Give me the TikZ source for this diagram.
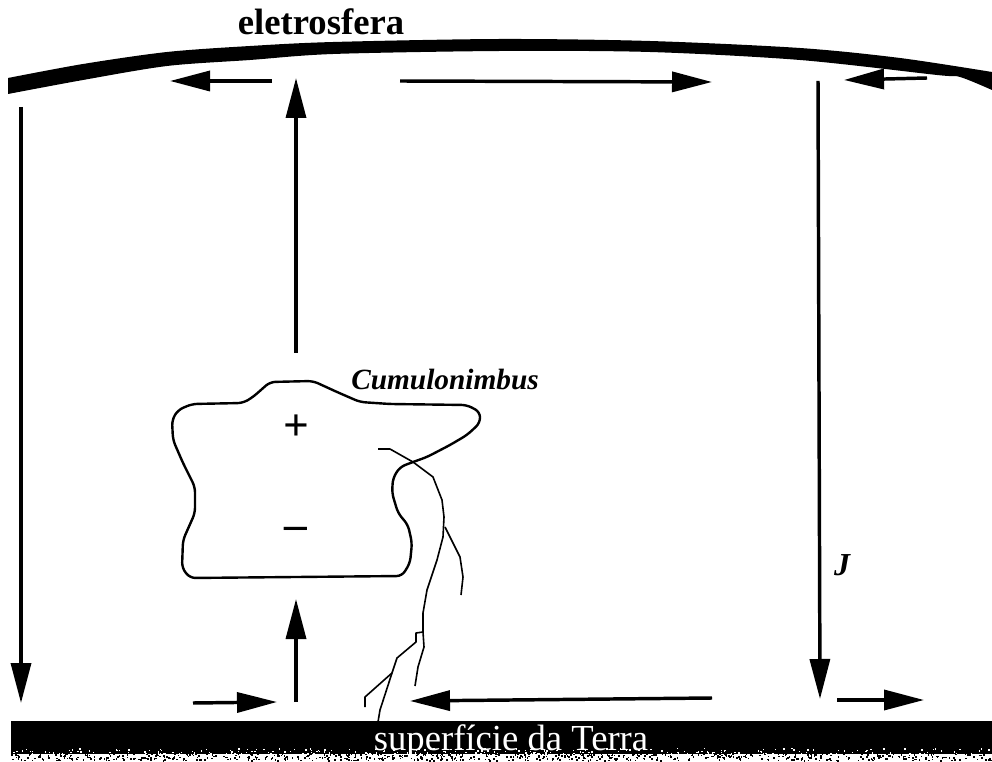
\documentclass[tikz,border=0pt]{standalone}
\usepackage{fontspec}
\setmainfont{Liberation Serif}
\usetikzlibrary{arrows.meta}

\begin{document}
\begin{tikzpicture}[
  x=0.75pt, y=-0.75pt,
  current/.style={
    line width=2.6pt,
    -{Triangle[length=30pt,width=15pt]}
  },
  cloudline/.style={line width=1.8pt, line join=round, rounded corners=4pt},
  boltline/.style={line width=1.2pt, line join=round},
  charge/.style={font=\fontsize{34}{34}\selectfont\bfseries, inner sep=0pt}
]
\useasboundingbox (0,0) rectangle (992,762);

% eletrosfera band
\fill plot[smooth] coordinates {(8,78) (83,64) (167,52) (250,46) (333,42) (500,39)
    (650,41) (800,48) (900,58) (992,72)}
  -- plot[smooth] coordinates {(992,90) (960,77) (937,75) (800,60) (650,52) (500,51)
    (333,54) (250,60) (167,66) (83,80) (8,94)} -- cycle;
\node[font=\fontsize{27.5}{30}\selectfont\bfseries, inner sep=0pt, anchor=base] (eletrosfera) at (321,35) {eletrosfera};

% ground band, speckled along its lower edge
\fill (11,721) rectangle (992,754);
\pgfmathsetseed{7}
\foreach \i in {1,...,700}{
  \pgfmathsetmacro{\dotx}{11+981*rnd}
  \pgfmathsetmacro{\doty}{753+7*rnd}
  \fill (\dotx,\doty) rectangle ++(1.6,1.6);
}
\foreach \i in {1,...,260}{
  \pgfmathsetmacro{\dotx}{11+981*rnd}
  \pgfmathsetmacro{\doty}{748+6*rnd}
  \fill[white] (\dotx,\doty) rectangle ++(1.4,1.4);
}
\node[white, font=\fontsize{27.5}{30}\selectfont, inner sep=0pt, anchor=base] (superficie) at (511,750) {superfície da Terra};

% current loop end points
\coordinate (leftS) at (21,107);     \coordinate (leftE) at (21,703);
\coordinate (upS) at (296,353);      \coordinate (upE) at (296,78);
\coordinate (topLS) at (272,81);     \coordinate (topLE) at (170,81);
\coordinate (topMS) at (400,81);     \coordinate (topME) at (712,82);
\coordinate (topRS) at (927,78);     \coordinate (topRE) at (844,80);
\coordinate (jS) at (818,81);        \coordinate (jE) at (820,699);
\coordinate (botUS) at (296,702);    \coordinate (botUE) at (296,599);
\coordinate (botLS) at (193,703);    \coordinate (botLE) at (277,702);
\coordinate (botMS) at (712,698);    \coordinate (botME) at (410,701);
\coordinate (botRS) at (837,700);    \coordinate (botRE) at (924,700);

\draw[current] (leftS) -- (leftE);
\draw[current] (upS) -- (upE);
\draw[current] (topLS) -- (topLE);
\draw[current] (topMS) -- (topME);
\draw[current] (topRS) -- (topRE);
\draw[current] (jS) -- (jE);
\draw[current] (botUS) -- (botUE);
\draw[current] (botLS) -- (botLE);
\draw[current] (botMS) -- (botME);
\draw[current] (botRS) -- (botRE);

% cloud outline
\draw[cloudline] (243,403) -- (253,397) -- (270,382) -- (313,381) -- (337,392)
  -- (360,402) -- (390,404) -- (467,405) -- (480,412) -- (480,423) -- (467,435)
  -- (450,445) -- (427,457) -- (413,462) -- (400,467) -- (393,478) -- (392,493)
  -- (398,513) -- (408,525) -- (412,543) -- (410,563) -- (402,576) -- (190,578)
  -- (182,568) -- (183,540) -- (195,513) -- (195,487) -- (183,463) -- (173,440)
  -- (172,420) -- (178,410) -- (192,404) -- cycle;
\node[charge] (plus) at (296,428) {+};
\node[charge] (minus) at (296,533) {–};
\node[font=\fontsize{22}{24}\selectfont\bfseries\itshape, inner sep=0pt] (cumulonimbus) at (445,379) {Cumulonimbus};
\node[font=\fontsize{24}{26}\selectfont\bfseries\itshape, inner sep=0pt] (J) at (842,565) {J};

% lightning
\draw[boltline] (378,449) -- (390,449) -- (413,462) -- (433,477) -- (442,500) -- (444,517)
  -- (443,537) -- (437,560) -- (427,590) -- (423,613) -- (423,632) -- (424,647) -- (418,667) -- (415,686);
\draw[boltline] (445,527) -- (460,557) -- (463,577) -- (461,595);
\draw[boltline] (423,632) -- (416,633) -- (416,642) -- (397,658) -- (392,673) -- (380,710) -- (378,722);
\draw[boltline] (392,673) -- (365,697) -- (365,707);
\end{tikzpicture}
\end{document}
